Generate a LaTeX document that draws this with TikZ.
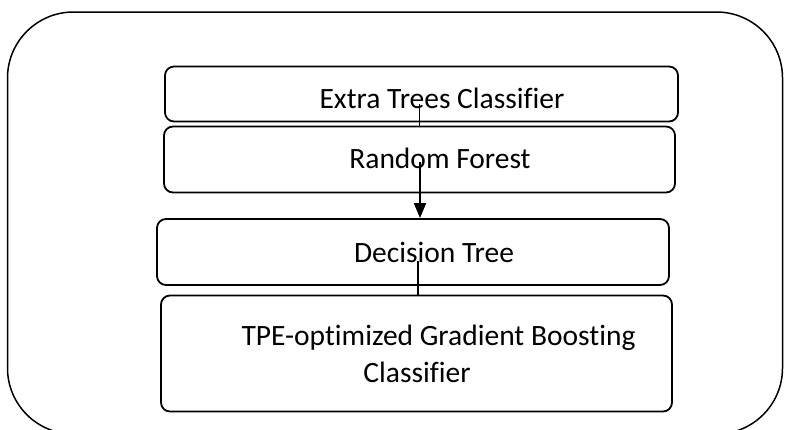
\documentclass[tikz,border=0pt]{standalone}
\usepackage{fontspec}
\setmainfont[Ligatures=NoCommon]{Carlito}
\usetikzlibrary{arrows.meta}
\begin{document}
\begin{tikzpicture}[x=1pt,y=-1pt,
  stagebox/.style={draw=black, line width=1.8pt, rounded corners=9pt, inner sep=0pt},
  stagetext/.style={anchor=base, inner sep=0pt, font=\fontsize{29.5}{34}\selectfont},
  link/.style={draw=black, line width=1.8pt},
  outerbox/.style={draw=black, line width=1.5pt, rounded corners=66pt}]
\useasboundingbox (0,0) rectangle (786,429);
\draw[outerbox] (7.5,12) rectangle (782.5,434);
\node[stagebox, minimum width=513pt, minimum height=55pt] (b1) at (421.5,94) {};
\node[stagebox, minimum width=511pt, minimum height=66pt] (b2) at (419.5,159.5) {};
\node[stagebox, minimum width=512pt, minimum height=66pt] (b3) at (413,252) {};
\node[stagebox, minimum width=511pt, minimum height=116pt] (b4) at (416.5,353.5) {};
\node[stagetext] (t1) at (442,108) {Extra Trees Classifier};
\node[stagetext] (t2) at (440,168) {Random Forest};
\node[stagetext] (t3) at (434,262) {Decision Tree};
\node[stagetext] (t4) at (438.5,345) {TPE-optimized Gradient Boosting};
\node[stagetext] (t5) at (417,382) {Classifier};
\coordinate (c1) at (419.5,104);
\coordinate (c2) at (420,162);
\coordinate (c3) at (418,261);
\draw[link] (c1) -- (c1 |- b2.north);
\draw[link, -{Triangle[width=12pt,length=15pt]}] (c2) -- (c2 |- b3.north);
\draw[link] (c3) -- (c3 |- b4.north);
\end{tikzpicture}
\end{document}
